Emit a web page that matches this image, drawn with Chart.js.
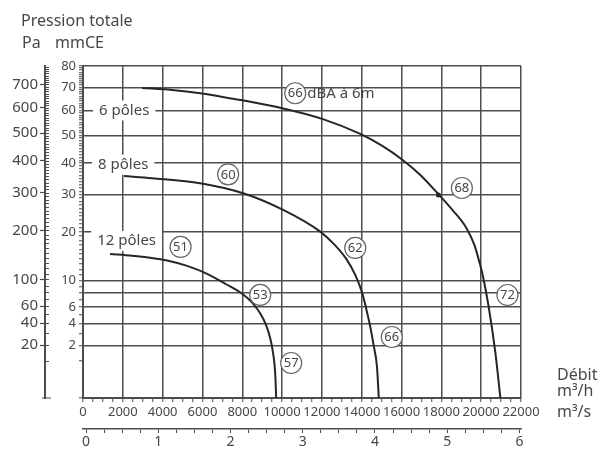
<!DOCTYPE html>
<html>
<head>
<meta charset="utf-8">
<script src="https://cdn.jsdelivr.net/npm/chart.js@4.4.1/dist/chart.umd.min.js"></script>
<style>
  html, body { margin: 0; padding: 0; background: #fff; }
</style>
</head>
<body>
<canvas id="courbes" width="600" height="450"></canvas>
<script>
// Courbes relevées : débit (m³/h) et pression totale (mmCE)
const debit6 = [2966, 4475, 5882, 7994, 10005, 12016, 13927, 15033, 16038, 16943, 17798, 18552, 19256, 19658, 19910, 20060, 20362, 20714, 20965];
const pression6 = [69.8, 68.9, 67.45, 64.3, 60.97, 56.55, 50.6, 46.1, 41.2, 36.1, 30.5, 25.7, 21.0, 17.0, 13.4, 11.2, 6.28, 1.47, 0];

const debit8 = [2061, 3469, 5882, 8044, 10055, 11915, 12619, 13223, 13675, 14027, 14228, 14429, 14605, 14766, 14857];
const pression8 = [35.8, 35.07, 33.49, 30.44, 25.68, 20.09, 17.12, 14.04, 10.99, 7.96, 5.75, 3.69, 1.96, 0.71, 0];

const debit12 = [1357, 2464, 3369, 4223, 5229, 6234, 7190, 8044, 8497, 8899, 9201, 9402, 9553, 9653, 9703];
const pression12 = [15.07, 14.69, 14.28, 13.74, 12.68, 11.19, 9.39, 7.78, 6.61, 5.2, 3.83, 2.6, 1.42, 0.46, 0];

// point repère sur la courbe 6 pôles
const repereDebit = [17850];
const repereP = [29.9];

// graduations
const labelsDebit = [0, 2000, 4000, 6000, 8000, 10000, 12000, 14000, 16000, 18000, 20000, 22000];
const labelsM3s = [0, 1, 2, 3, 4, 5, 6];
const labelsMmce = [2, 4, 6, 10, 20, 30, 40, 50, 60, 70, 80];
const grilleMmce = [2, 4, 6, 8, 10, 20, 30, 40, 50, 60, 70, 80];
const labelsPa = [20, 40, 60, 100, 200, 300, 400, 500, 600, 700];

// niveaux sonores (dBA à 6 m) placés en débit / pression
const bulleTexte = ['66', '68', '72', '60', '62', '66', '51', '53', '57'];
const bulleDebit = [10660, 19030, 21320, 7290, 13675, 15510, 4900, 8900, 10457];
const bulleP = [67.4, 32.0, 7.7, 36.3, 16.35, 2.7, 16.56, 7.71, 0.89];

const poleTexte = ['6 pôles', '8 pôles', '12 pôles'];
const poleDebit = [2070, 2020, 2190];
const poleP = [60, 39.5, 17.9];

const ENCRE = '#474747';
const TRAIT = '#4d4d4d';
const VIDE = 'rgba(0,0,0,0)';
const POLICE = "'Noto Sans', 'DejaVu Sans', sans-serif";

// échelle en racine carrée (pression ~ débit²)
class EchelleRacine extends Chart.LinearScale {
  getPixelForValue(value) {
    const bas = Math.sqrt(Math.max(this.min, 0));
    const haut = Math.sqrt(this.max);
    return this.getPixelForDecimal((Math.sqrt(Math.max(value, 0)) - bas) / (haut - bas));
  }
  getValueForPixel(pixel) {
    const bas = Math.sqrt(Math.max(this.min, 0));
    const haut = Math.sqrt(this.max);
    const r = bas + this.getDecimalForPixel(pixel) * (haut - bas);
    return r * r;
  }
}
EchelleRacine.id = 'racine';
EchelleRacine.defaults = Chart.LinearScale.defaults;
Chart.register(EchelleRacine);

function points(xs, ys) {
  return xs.map((x, i) => ({ x: x, y: ys[i] }));
}

function pas(debut, fin, step) {
  const out = [];
  for (let v = debut; v <= fin + 1e-9; v += step) out.push(Math.round(v * 1000) / 1000);
  return out;
}

function courbe(label, data) {
  return {
    label: label, data: data, borderColor: '#262626', borderWidth: 2,
    pointRadius: 0, cubicInterpolationMode: 'monotone', fill: false
  };
}

// textes, bulles et petites graduations
const habillage = {
  id: 'habillage',
  beforeDatasetsDraw(chart) {
    const ctx = chart.ctx;
    const { x, y } = chart.scales;
    ctx.save();
    ctx.font = '15px ' + POLICE;
    ctx.textAlign = 'center';
    ctx.textBaseline = 'middle';
    poleTexte.forEach((t, i) => {
      const px = x.getPixelForValue(poleDebit[i]);
      const py = y.getPixelForValue(poleP[i]);
      const w = ctx.measureText(t).width;
      ctx.fillStyle = '#fff';
      ctx.fillRect(px - w / 2 - 6, py - 10, w + 12, 20);
      ctx.fillStyle = ENCRE;
      ctx.fillText(t, px, py);
    });
    ctx.restore();
  },
  afterDraw(chart) {
    const ctx = chart.ctx;
    const { x, y, yPa } = chart.scales;
    ctx.save();
    ctx.strokeStyle = TRAIT;
    ctx.lineWidth = 1;
    pas(10, 780, 10).forEach(v => {
      const py = Math.round(yPa.getPixelForValue(v)) + 0.5;
      ctx.beginPath();
      ctx.moveTo(yPa.right - 1, py);
      ctx.lineTo(yPa.right + 4, py);
      ctx.stroke();
    });
    ctx.beginPath();
    ctx.moveTo(yPa.right - 3, y.bottom);
    ctx.lineTo(yPa.right + 6, y.bottom);
    ctx.stroke();

    bulleTexte.forEach((t, i) => {
      const px = x.getPixelForValue(bulleDebit[i]);
      const py = y.getPixelForValue(bulleP[i]);
      ctx.beginPath();
      ctx.arc(px, py, 10.5, 0, Math.PI * 2);
      ctx.fillStyle = '#fff';
      ctx.fill();
      ctx.lineWidth = 1.2;
      ctx.strokeStyle = '#666';
      ctx.stroke();
      ctx.fillStyle = ENCRE;
      ctx.font = '13px ' + POLICE;
      ctx.textAlign = 'center';
      ctx.textBaseline = 'middle';
      ctx.fillText(t, px, py + 0.5);
      if (i === 0) {
        ctx.font = '15px ' + POLICE;
        ctx.textAlign = 'left';
        ctx.fillText('dBA à 6m', px + 12, py);
      }
    });

    ctx.fillStyle = ENCRE;
    ctx.textAlign = 'left';
    ctx.textBaseline = 'middle';
    ctx.font = '16px ' + POLICE;
    ctx.fillText('Pression totale', 21, 21);
    ctx.fillText('Pa', 22, 43);
    ctx.fillText('mmCE', 55, 43);
    ctx.fillText('Débit', 557, 375);
    ctx.fillText('m³/h', 557, 391);
    ctx.fillText('m³/s', 557, 412);
    ctx.restore();
  }
};

new Chart(document.getElementById('courbes'), {
  type: 'line',
  data: {
    datasets: [
      courbe('6 pôles', points(debit6, pression6)),
      courbe('8 pôles', points(debit8, pression8)),
      courbe('12 pôles', points(debit12, pression12)),
      { label: 'repère', data: points(repereDebit, repereP), showLine: false,
        pointRadius: 2.5, pointBackgroundColor: '#262626', pointBorderWidth: 0 }
    ]
  },
  options: {
    responsive: false,
    animation: false,
    layout: { padding: { top: 66, right: 79, bottom: 0, left: 0 } },
    plugins: { legend: { display: false }, tooltip: { enabled: false } },
    scales: {
      x: {
        type: 'linear', position: 'bottom', weight: 0, min: 0, max: 22000,
        afterBuildTicks: s => { s.ticks = pas(0, 22000, 500).map(v => ({ value: v })); },
        afterFit: s => { s.height = 31; },
        grid: {
          color: c => (c.tick && c.tick.value > 0 && labelsDebit.includes(c.tick.value)) ? TRAIT : VIDE,
          lineWidth: 1.5, tickColor: TRAIT, tickLength: 4, tickWidth: 1
        },
        border: { color: TRAIT, width: 2 },
        ticks: {
          autoSkip: false, maxRotation: 0, minRotation: 0, padding: 2, color: ENCRE,
          font: { family: POLICE, size: 13 },
          callback: v => labelsDebit.includes(v) ? String(v) : ''
        }
      },
      xs: {
        type: 'linear', position: 'bottom', weight: 1, min: -0.0416, max: 6.022,
        afterBuildTicks: s => { s.ticks = pas(0, 6, 0.25).map(v => ({ value: v })); },
        afterFit: s => { s.height = 21; },
        grid: { drawOnChartArea: false, tickColor: TRAIT, tickLength: 4, tickWidth: 1 },
        border: { color: TRAIT, width: 1.5 },
        ticks: {
          autoSkip: false, maxRotation: 0, minRotation: 0, padding: 1, color: ENCRE,
          font: { family: POLICE, size: 14 },
          callback: v => labelsM3s.includes(v) ? String(v) : ''
        }
      },
      y: {
        type: 'racine', position: 'left', weight: 0, min: 0, max: 80,
        afterBuildTicks: s => { s.ticks = pas(0, 80, 1).map(v => ({ value: v })); },
        afterFit: s => { s.width = 38; },
        grid: {
          color: c => (c.tick && grilleMmce.includes(c.tick.value)) ? TRAIT : VIDE,
          lineWidth: 1.5, tickColor: TRAIT, tickLength: 4, tickWidth: 1
        },
        border: { color: TRAIT, width: 2 },
        ticks: {
          autoSkip: false, padding: 3, color: ENCRE,
          font: { family: POLICE, size: 13 },
          callback: v => labelsMmce.includes(v) ? String(v) : ''
        }
      },
      yPa: {
        type: 'racine', position: 'left', weight: 1, min: 0, max: 80 * 9.81,
        afterBuildTicks: s => { s.ticks = labelsPa.map(v => ({ value: v })); },
        afterFit: s => { s.width = 45; },
        grid: { drawOnChartArea: false, tickColor: TRAIT, tickLength: 5, tickWidth: 1.2 },
        border: { color: TRAIT, width: 2 },
        ticks: {
          autoSkip: false, padding: 2, color: ENCRE,
          font: { family: POLICE, size: 15 },
          callback: v => String(v)
        }
      }
    }
  },
  plugins: [habillage]
});
</script>
</body>
</html>
